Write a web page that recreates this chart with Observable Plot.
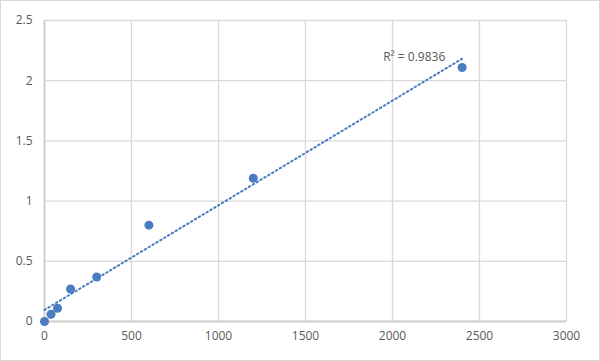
<!DOCTYPE html>
<html>
<head>
<meta charset="utf-8">
<script src="https://cdn.jsdelivr.net/npm/d3@7"></script>
<script src="https://cdn.jsdelivr.net/npm/@observablehq/plot@0.6"></script>
<style>
  html, body { margin: 0; padding: 0; background: #fff; }
  #chart svg { display: block; }
</style>
</head>
<body>
<div id="chart"></div>
<script>
const concentration = [0, 37.5, 75, 150, 300, 600, 1200, 2400];
const absorbance = [0, 0.06, 0.11, 0.27, 0.37, 0.80, 1.19, 2.11];
const xTicks = [0, 500, 1000, 1500, 2000, 2500, 3000];
const yTicks = [0, 0.5, 1, 1.5, 2, 2.5];
const r2Label = "R² = 0.9836";

const data = concentration.map((x, i) => ({x, y: absorbance[i]}));
const blue = "#4a7cc0";
const grid = "#d9d9d9";
const textColor = "#595959";
const fmt = d => String(d);

const plot = Plot.plot({
  width: 600,
  height: 361,
  marginLeft: 44,
  marginRight: 34,
  marginTop: 20,
  marginBottom: 40,
  style: {fontFamily: "'Open Sans', 'Noto Sans', sans-serif", fontSize: "12px", color: textColor, background: "transparent"},
  x: {domain: [0, 3000], label: null},
  y: {domain: [0, 2.5], label: null},
  marks: [
    Plot.gridX(xTicks, {stroke: grid, strokeOpacity: 1, strokeWidth: 1.3}),
    Plot.gridY(yTicks, {stroke: grid, strokeOpacity: 1, strokeWidth: 1.3}),
    Plot.ruleX([0], {stroke: "#cfcfcf", strokeWidth: 1.8}),
    Plot.ruleY([0], {stroke: "#cfcfcf", strokeWidth: 1.8}),
    Plot.axisX({ticks: xTicks, tickFormat: fmt, tickSize: 0, tickPadding: 10, fill: textColor, fontSize: 12, label: null}),
    Plot.axisY({ticks: yTicks, tickFormat: fmt, tickSize: 0, tickPadding: 12, fill: textColor, fontSize: 12, label: null}),
    Plot.linearRegressionY(data, {x: "x", y: "y", ci: 0, stroke: blue, strokeWidth: 2, strokeDasharray: "1.5,3"}),
    Plot.dot(data, {x: "x", y: "y", r: 4.5, fill: blue, stroke: "none"}),
    Plot.text([r2Label], {x: 2200, y: 2.18, text: d => d, textAnchor: "end", fill: textColor, fontSize: 12, dy: -2, dx: 18})
  ]
});

d3.select(plot).insert("rect", ":first-child")
  .attr("x", 0.5).attr("y", 0.5).attr("width", 599).attr("height", 360)
  .attr("fill", "#fff").attr("stroke", "#d9d9d9").attr("stroke-width", 1);

document.getElementById("chart").appendChild(plot);
</script>
</body>
</html>
